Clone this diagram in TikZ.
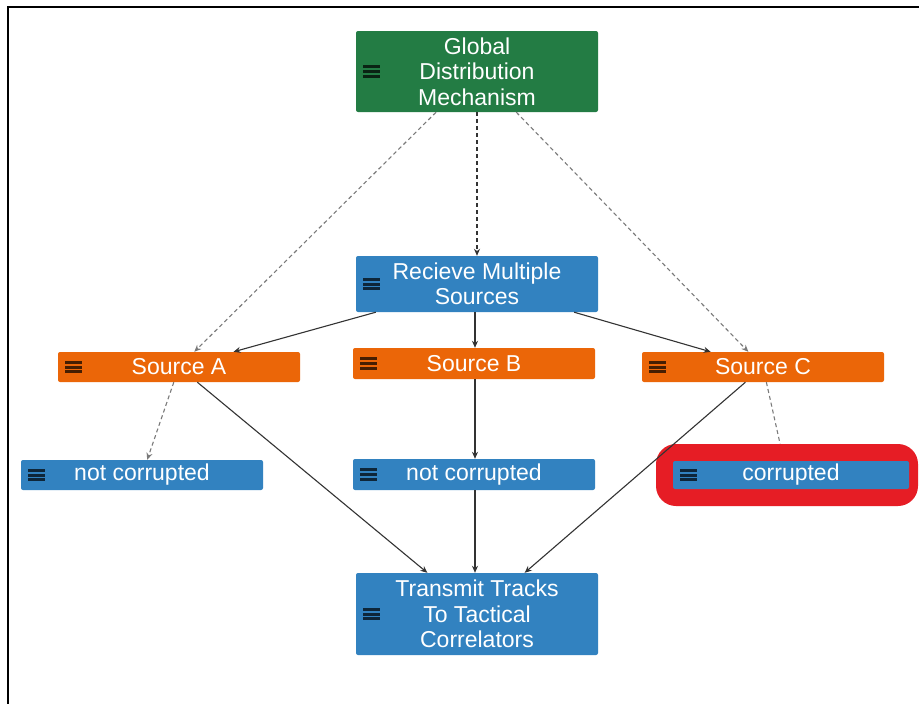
\documentclass[tikz,border=0pt]{standalone}
\usepackage{fontspec}
\setmainfont{Liberation Sans}
\usetikzlibrary{arrows.meta,calc}
\definecolor{ggreen}{HTML}{237C44}
\definecolor{gblue}{HTML}{3282C0}
\definecolor{gorange}{HTML}{EB6608}
\definecolor{hred}{HTML}{E61D25}
\definecolor{dashgray}{HTML}{7A7A7A}
\definecolor{solidgray}{HTML}{333333}
\tikzset{
  box/.style={rectangle, rounded corners=2pt, minimum width=242pt, text=white,
    align=center, font=\fontsize{23}{25.5}\selectfont, inner sep=0pt,
    path picture={
      \foreach \dy in {-4.8,0,4.8}
        \draw[line width=3pt, black, opacity=0.7, sharp corners]
          ([xshift=7pt,yshift=\dy pt]path picture bounding box.west) -- ++(17pt,0pt);
    }},
  solidedge/.style={draw=solidgray, line width=1.1pt, -{Stealth[length=7pt,width=6pt]}},
  dashedge/.style={draw=dashgray, line width=1.1pt, dash pattern=on 4pt off 3pt, -{Stealth[length=7pt,width=6pt]}},
}
\begin{document}
\begin{tikzpicture}[x=1pt,y=-1pt]
\useasboundingbox (0,0) rectangle (919,704);
\fill[white] (0,0) rectangle (919,704);
\draw[line width=2pt] (8,705) -- (8,7) -- (920,7);

\node[box, fill=ggreen, minimum height=81pt] (ga) at (477,71.5) {Global\\Distribution\\Mechanism};
\node[box, fill=gblue, minimum height=56pt] (rm) at (477,284) {Recieve Multiple\\Sources};
\node[box, fill=gorange, minimum height=30pt] (sa) at (179,367) {Source A};
\node[box, fill=gorange, minimum height=31pt] (sb) at (474,363.5) {Source B};
\node[box, fill=gorange, minimum height=30pt] (sc) at (763,367) {Source C};
\node[box, fill=gblue, minimum height=30pt] (na) at (142,475) {not corrupted};
\node[box, fill=gblue, minimum height=31pt] (nb) at (474,474.5) {not corrupted};
\node[fill=hred, rounded corners=20pt, minimum width=262pt, minimum height=62pt, inner sep=0pt] (hl) at (787,475) {};
\node[box, fill=gblue, minimum width=236pt, minimum height=28pt] (co) at (791,475) {corrupted};
\node[box, fill=gblue, minimum height=82pt] (tt) at (477,614) {Transmit Tracks\\To Tactical\\Correlators};

% dashed edges
\draw[dashedge] (ga) -- (sa);
\draw[dashedge] (ga) -- (sc);
\draw[dashedge, draw=solidgray] (ga) -- (rm);
\draw[dashedge] (sa) -- (na);
\draw[dashedge, -] (sc) -- (hl);

% solid edges
\draw[solidedge] (rm) -- (sa);
\draw[solidedge] (rm) -- (sc);
\draw[solidedge] ([xshift=1pt]sb.north |- rm.south) -- ([xshift=1pt]sb.north);
\draw[solidedge] ([xshift=1pt]sb.south) -- ([xshift=1pt]nb.north);
\draw[solidedge] ([xshift=1pt]nb.south) -- ([xshift=1pt]nb.south |- tt.north);
\draw[solidedge] (sa) -- (tt);
\draw[solidedge] (sc) -- (tt);
\end{tikzpicture}
\end{document}
